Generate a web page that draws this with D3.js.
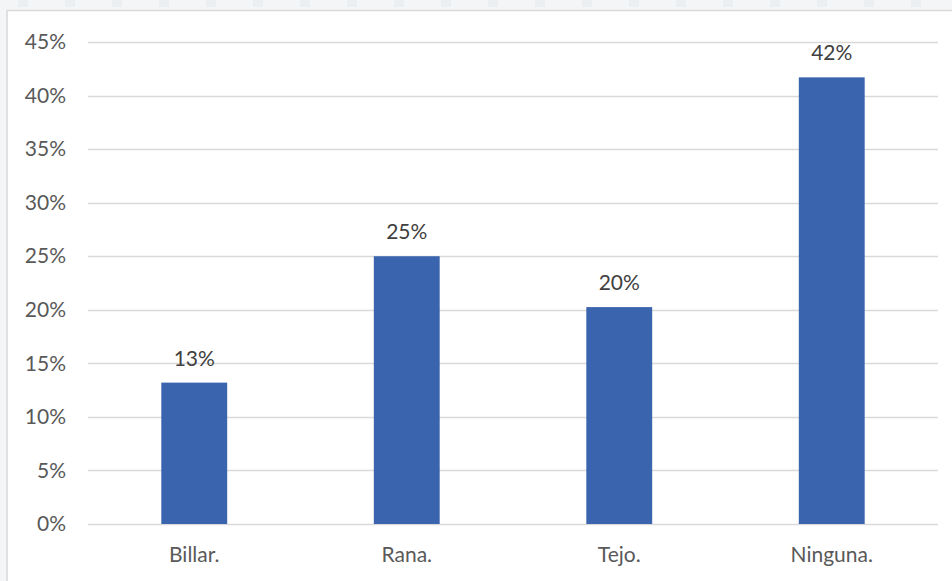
<!DOCTYPE html>
<html><head><meta charset="utf-8">
<script src="https://cdn.jsdelivr.net/npm/d3@7"></script>
<style>
html,body{margin:0;padding:0;background:#f4f6f7;}
svg{display:block;}
</style></head>
<body>
<svg id="c" width="952" height="581"></svg>
<script>
const categories = ["Billar.", "Rana.", "Tejo.", "Ninguna."];
const values = [13.2, 25.0, 20.25, 41.7];
const valueLabels = ["13%", "25%", "20%", "42%"];
const yTicks = [0, 5, 10, 15, 20, 25, 30, 35, 40, 45];

const svg = d3.select("#c");
const W = 952, H = 581;
const font = "Lato, 'Open Sans', sans-serif";

// top strip decorations
const strip = svg.append("g");
strip.append("rect").attr("x",0).attr("y",0).attr("width",W).attr("height",11).attr("fill","#f3f5f6");
d3.range(18, W, 47).forEach(x=>{
  strip.append("rect").attr("x",x).attr("y",0).attr("width",10).attr("height",7).attr("fill","#eceff1");
});

// chart panel
svg.append("rect").attr("x",7).attr("y",10.5).attr("width",W).attr("height",H)
  .attr("fill","#fff").attr("stroke","#d9d9d9").attr("stroke-width",1.5);

const x0 = 88, x1 = 938, yTop = 42, yBot = 524;
const x = d3.scaleBand().domain(categories).range([x0, x1]).paddingInner(0.69).paddingOuter(0.345);
const y = d3.scaleLinear().domain([0, 45]).range([yBot, yTop]);

// gridlines
svg.append("g").selectAll("line").data(yTicks).join("line")
  .attr("x1",x0).attr("x2",x1)
  .attr("y1",d=>Math.round(y(d))+0.5).attr("y2",d=>Math.round(y(d))+0.5)
  .attr("stroke","#d9d9d9").attr("stroke-width",1.5);

// y axis labels
const yAxis = d3.axisLeft(y).tickValues(yTicks).tickFormat(d=>d+"%").tickSize(0).tickPadding(0);
const ga = svg.append("g").attr("transform",`translate(66,0)`).call(yAxis);
ga.select(".domain").remove();
ga.selectAll("text").attr("font-family",font).attr("font-size",21).attr("fill","#595959");

// bars
svg.append("g").selectAll("rect").data(values).join("rect")
  .attr("x",(d,i)=>x(categories[i]))
  .attr("width",x.bandwidth())
  .attr("y",d=>y(d))
  .attr("height",d=>yBot-y(d))
  .attr("fill","#3a64ad");

// value labels
svg.append("g").selectAll("text").data(values).join("text")
  .attr("x",(d,i)=>x(categories[i])+x.bandwidth()/2)
  .attr("y",d=>y(d)-17)
  .attr("text-anchor","middle")
  .attr("font-family",font).attr("font-size",21).attr("fill","#404040")
  .text((d,i)=>valueLabels[i]);

// x axis labels
const xAxis = d3.axisBottom(x).tickSize(0).tickPadding(0);
const gx = svg.append("g").attr("transform",`translate(0,${yBot})`).call(xAxis);
gx.select(".domain").remove();
gx.selectAll("text").attr("font-family",font).attr("font-size",21).attr("fill","#595959").attr("dy",null).attr("y",38);
</script>
</body></html>
